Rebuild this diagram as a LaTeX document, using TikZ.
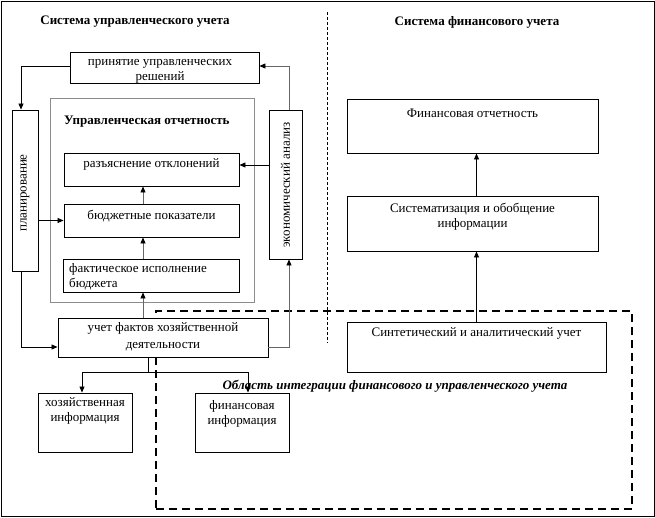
\documentclass[tikz,border=0pt]{standalone}
\usepackage{fontspec}
\setmainfont{Liberation Serif}
\usetikzlibrary{arrows.meta}
\begin{document}
\begin{tikzpicture}[x=1pt,y=-1pt,
  box/.style={draw=black,fill=white,line width=0.9pt,rectangle,inner sep=0pt},
  gbox/.style={draw=black!45,line width=0.9pt,rectangle,inner sep=0pt},
  txt/.style={font=\fontsize{13}{15}\selectfont,inner sep=0pt,align=center},
  ttl/.style={font=\bfseries\fontsize{13}{15}\selectfont,inner sep=0pt},
  arr/.style={line width=0.8pt,-{Triangle[length=6pt,width=5pt]}},
  garr/.style={line width=0.8pt,draw=black!60,-{Triangle[length=6pt,width=5pt,fill=black,color=black]}},
  ln/.style={line width=0.8pt}]
\useasboundingbox (0,0) rectangle (655,517);
\node[draw=black,line width=1pt,minimum width=653,minimum height=515,inner sep=0pt] (frame) at (327.5,258.5) {};
% titles
\node[ttl] (t1) at (135,22) {Система управленческого учета};
\node[ttl] (t2) at (477,22) {Система финансового учета};
% separator
\coordinate (s1) at (327,12);
\coordinate (s2) at (327,343);
\draw[line width=0.6pt,dash pattern=on 3pt off 2pt] (s1) -- (s2);
% integration area
\node[draw=black,line width=1.8pt,dash pattern=on 8pt off 5pt,minimum width=476,minimum height=198,inner sep=0pt] (integ) at (394,410) {};
\node[font=\bfseries\itshape\fontsize{13}{15}\selectfont,inner sep=0pt] (intt) at (395,386) {Область интеграции финансового и управленческого учета};
% boxes
\node[gbox,minimum width=204,minimum height=204] (ur) at (152,200) {};
\node[ttl,anchor=west] (urt) at (64,122) {Управленческая отчетность};
\node[box,minimum width=189,minimum height=31] (pr) at (164.5,67.5) {};
\node[txt] (prt) at (160,71) {принятие управленческих\\решений};
\node[box,minimum width=26,minimum height=161] (plan) at (25,190.5) {};
\node[txt,rotate=90] (plant) at (25,193) {планирование};
\node[box,minimum width=33,minimum height=149] (ek) at (285.5,184.5) {};
\node[txt,rotate=90] (ekt) at (285.5,185) {экономический анализ};
\node[box,minimum width=175,minimum height=33] (raz) at (151.5,169.5) {};
\node[txt] (razt) at (151.5,164) {разъяснение отклонений};
\node[box,minimum width=175,minimum height=33] (bud) at (151.5,220.5) {};
\node[txt] (budt) at (151.5,216) {бюджетные показатели};
\node[box,minimum width=176,minimum height=33] (fakt) at (151,275.5) {};
\node[txt,align=left,anchor=west] (faktt) at (69,277) {фактическое исполнение\\бюджета};
\node[box,minimum width=210,minimum height=39] (uchet) at (163,337.5) {};
\node[txt,font=\fontsize{13}{17}\selectfont] (uchett) at (163,337) {учет фактов хозяйственной\\деятельности};
\node[box,minimum width=94,minimum height=59] (hoz) at (85,422.5) {};
\node[txt] (hozt) at (85,411) {хозяйственная\\информация};
\node[box,minimum width=94,minimum height=59] (fin) at (242,422.5) {};
\node[txt] (fint) at (242,413.5) {финансовая\\информация};
\node[box,minimum width=251,minimum height=54] (fo) at (472.5,126) {};
\node[txt] (fot) at (472.5,113) {Финансовая отчетность};
\node[box,minimum width=251,minimum height=55] (sis) at (472.5,223.5) {};
\node[txt] (sist) at (472.5,217) {Систематизация и обобщение\\информации};
\node[box,minimum width=259,minimum height=50] (sin) at (476.5,347) {};
\node[txt] (sint) at (476.5,333) {Синтетический и аналитический учет};
% connectors
\draw[arr] ([yshift=1.5pt]pr.west) -| ([xshift=-4pt]plan.north);
\draw[garr] ([xshift=3.5pt]ek.north) |- ([yshift=1.5pt]pr.east);
\draw[arr] ([yshift=4.5pt]raz.east -| ek.west) -- ([yshift=4.5pt]raz.east);
\draw[arr] (plan.east |- bud.west) -- (bud.west);
\draw[garr] ([xshift=-8.5pt]bud.north) -- ([xshift=-8.5pt]raz.south);
\draw[garr] ([xshift=-8pt]fakt.north) -- ([xshift=-8pt]fakt.north |- bud.south);
\draw[garr] ([xshift=-8pt]fakt.south |- uchet.north) -- ([xshift=-8pt]fakt.south);
\draw[arr] ([xshift=-4pt]plan.south) |- ([yshift=-9.5pt]uchet.west);
\draw[garr] ([yshift=-9.5pt]uchet.east) -| ([xshift=3.5pt]ek.south);
\coordinate (split) at (148,372);
\draw[ln] ([xshift=-15pt]uchet.south) -- (split);
\draw[arr] (split) -| ([xshift=-3pt]hoz.north);
\draw[arr] (split) -| ([xshift=6pt]fin.north);
\draw[arr] (sin.north) -- (sin.north |- sis.south);
\draw[arr] (sin.north |- sis.north) -- (sin.north |- fo.south);
\end{tikzpicture}
\end{document}
